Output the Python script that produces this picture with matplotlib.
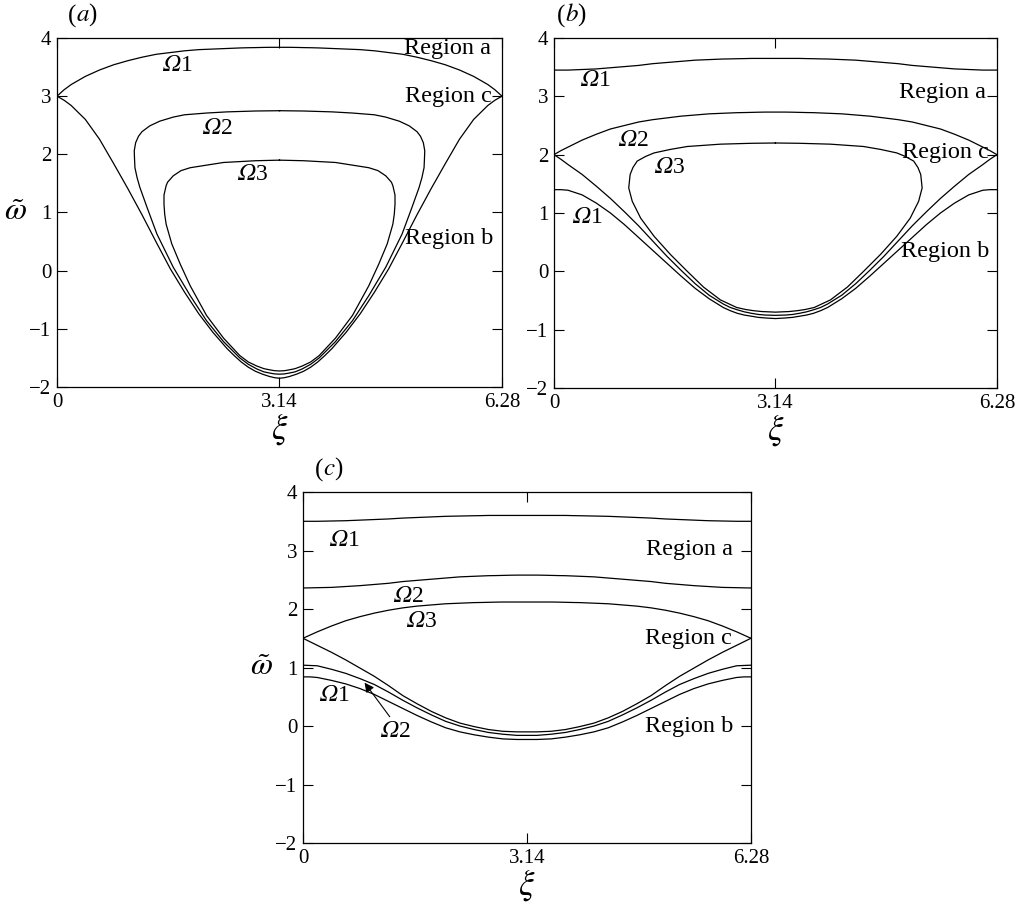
import matplotlib
matplotlib.use("Agg")
import matplotlib.pyplot as plt

plt.rcParams["font.family"] = ["Liberation Serif", "DejaVu Serif"]
plt.rcParams["mathtext.fontset"] = "custom"
plt.rcParams["mathtext.rm"] = "STIXGeneral:italic"
plt.rcParams["mathtext.it"] = "STIXGeneral:italic"
plt.rcParams["mathtext.bf"] = "STIXGeneral:bold"

# common xi grid (0 .. 2*pi), denser near the trough
XI = [0.00, 0.10, 0.20, 0.40, 0.60, 0.80, 1.00, 1.20, 1.40, 1.60, 1.80, 2.00, 2.20, 2.40, 2.50, 2.60, 2.70, 2.80,
      2.90, 3.00, 3.07, 3.14, 3.21, 3.28, 3.38, 3.48, 3.58, 3.68, 3.78, 3.88, 4.08, 4.28, 4.48, 4.68, 4.88, 5.08,
      5.28, 5.48, 5.68, 5.88, 6.08, 6.18, 6.28]

# ---- panel (a) ----
a_om1_up = [3.00, 3.11, 3.20, 3.34, 3.45, 3.54, 3.61, 3.67, 3.72, 3.75, 3.78, 3.80, 3.81, 3.82, 3.825, 3.83, 3.833,
            3.835, 3.838, 3.84, 3.84, 3.84, 3.84, 3.84, 3.838, 3.835, 3.833, 3.83, 3.825, 3.82, 3.81, 3.80, 3.78,
            3.75, 3.72, 3.67, 3.61, 3.54, 3.45, 3.34, 3.20, 3.11, 3.00]
a_om1_lo = [3.00, 2.93, 2.84, 2.60, 2.26, 1.84, 1.41, 0.96, 0.49, 0.03, -0.37, -0.74, -1.06, -1.34, -1.46, -1.57,
            -1.66, -1.73, -1.78, -1.82, -1.84, -1.85, -1.84, -1.82, -1.78, -1.73, -1.66, -1.57, -1.46, -1.34, -1.06,
            -0.74, -0.37, 0.03, 0.49, 0.96, 1.41, 1.84, 2.26, 2.60, 2.84, 2.93, 3.00]
a_om2_xi = [3.14, 2.80, 2.40, 2.11, 1.80, 1.64, 1.45, 1.31, 1.20, 1.15, 1.11, 1.09, 1.095, 1.10, 1.13, 1.17, 1.27,
            1.41, 1.64, 1.88, 2.11, 2.35, 2.58, 2.70, 2.82, 2.92, 3.00, 3.07, 3.14, 3.21, 3.28, 3.36, 3.46, 3.58,
            3.70, 3.93, 4.17, 4.40, 4.64, 4.87, 5.01, 5.11, 5.15, 5.18, 5.185, 5.19, 5.17, 5.13, 5.08, 4.97, 4.83,
            4.64, 4.48, 4.17, 3.88, 3.48, 3.14]
a_om2_w = [2.75, 2.745, 2.73, 2.71, 2.68, 2.64, 2.57, 2.49, 2.39, 2.31, 2.20, 2.06, 1.90, 1.77, 1.60, 1.43, 1.09,
           0.63, 0.06, -0.43, -0.86, -1.22, -1.50, -1.61, -1.69, -1.74, -1.76, -1.775, -1.78, -1.775, -1.76,
           -1.74, -1.69, -1.61, -1.50, -1.22, -0.86, -0.43, 0.06, 0.63, 1.09, 1.43, 1.60, 1.77, 1.90, 2.06, 2.20,
           2.31, 2.39, 2.49, 2.57, 2.64, 2.68, 2.71, 2.73, 2.745, 2.75]
a_om3_xi = [3.14, 2.80, 2.35, 1.88, 1.75, 1.64, 1.56, 1.54, 1.51, 1.51, 1.52, 1.54, 1.62, 1.74, 1.88, 2.11, 2.35,
            2.58, 2.70, 2.82, 2.92, 3.00, 3.07, 3.14, 3.21, 3.28, 3.36, 3.46, 3.58, 3.70, 3.93, 4.17, 4.40, 4.54,
            4.66, 4.74, 4.76, 4.77, 4.77, 4.74, 4.72, 4.64, 4.53, 4.40, 3.93, 3.48, 3.14]
a_om3_w = [1.90, 1.89, 1.86, 1.77, 1.72, 1.63, 1.52, 1.46, 1.30, 1.14, 0.97, 0.80, 0.46, 0.11, -0.26, -0.77, -1.16,
           -1.46, -1.57, -1.64, -1.685, -1.705, -1.72, -1.725, -1.72, -1.705, -1.685, -1.64, -1.57, -1.46, -1.16,
           -0.77, -0.26, 0.11, 0.46, 0.80, 0.97, 1.14, 1.30, 1.46, 1.52, 1.63, 1.72, 1.77, 1.86, 1.89, 1.90]

# ---- panel (b) ----
b_om1_up = [3.45, 3.45, 3.45, 3.46, 3.47, 3.49, 3.51, 3.53, 3.56, 3.58, 3.60, 3.62, 3.63, 3.64, 3.642, 3.645, 3.647,
            3.65, 3.65, 3.65, 3.65, 3.65, 3.65, 3.65, 3.65, 3.65, 3.647, 3.645, 3.642, 3.64, 3.63, 3.62, 3.60,
            3.58, 3.56, 3.53, 3.51, 3.49, 3.47, 3.46, 3.45, 3.45, 3.45]
b_om2_up = [2.00, 2.07, 2.13, 2.25, 2.35, 2.44, 2.50, 2.56, 2.60, 2.63, 2.66, 2.68, 2.70, 2.71, 2.715, 2.72, 2.722,
            2.725, 2.728, 2.73, 2.73, 2.73, 2.73, 2.73, 2.728, 2.725, 2.722, 2.72, 2.715, 2.71, 2.70, 2.68, 2.66,
            2.63, 2.60, 2.56, 2.50, 2.44, 2.35, 2.25, 2.13, 2.07, 2.00]
b_om2_lo = [2.00, 1.92, 1.83, 1.66, 1.46, 1.25, 1.02, 0.78, 0.52, 0.26, 0.02, -0.21, -0.41, -0.56, -0.62, -0.66,
            -0.695, -0.72, -0.74, -0.75, -0.752, -0.755, -0.752, -0.75, -0.74, -0.72, -0.695, -0.66, -0.62, -0.56,
            -0.41, -0.21, 0.02, 0.26, 0.52, 0.78, 1.02, 1.25, 1.46, 1.66, 1.83, 1.92, 2.00]
b_om1_lo = [1.40, 1.40, 1.39, 1.31, 1.17, 1.00, 0.80, 0.58, 0.36, 0.14, -0.08, -0.29, -0.47, -0.62, -0.675, -0.72,
            -0.75, -0.77, -0.79, -0.80, -0.805, -0.81, -0.805, -0.80, -0.79, -0.77, -0.75, -0.72, -0.675, -0.62,
            -0.47, -0.29, -0.08, 0.14, 0.36, 0.58, 0.80, 1.00, 1.17, 1.31, 1.39, 1.40, 1.40]
b_om3_xi = [3.14, 2.80, 2.36, 1.89, 1.65, 1.42, 1.30, 1.18, 1.12, 1.08, 1.06, 1.11, 1.23, 1.42, 1.65, 1.89, 2.12,
            2.36, 2.59, 2.72, 2.83, 2.95, 3.05, 3.14, 3.23, 3.33, 3.45, 3.56, 3.69, 3.92, 4.16, 4.39, 4.63, 4.86,
            5.05, 5.17, 5.22, 5.20, 5.16, 5.10, 4.98, 4.86, 4.63, 4.39, 3.92, 3.48, 3.14]
b_om3_w = [2.20, 2.195, 2.18, 2.14, 2.09, 2.03, 1.97, 1.89, 1.78, 1.66, 1.43, 1.20, 0.91, 0.60, 0.29, 0.00, -0.27,
           -0.49, -0.62, -0.655, -0.675, -0.69, -0.695, -0.70, -0.695, -0.69, -0.675, -0.655, -0.62, -0.49, -0.27,
           0.00, 0.29, 0.60, 0.91, 1.20, 1.43, 1.66, 1.78, 1.89, 1.97, 2.03, 2.09, 2.14, 2.18, 2.195, 2.20]

# ---- panel (c) ----
c_om1_up = [3.50, 3.50, 3.50, 3.505, 3.51, 3.52, 3.53, 3.54, 3.555, 3.565, 3.575, 3.585, 3.59, 3.595, 3.597, 3.60,
            3.60, 3.60, 3.60, 3.60, 3.60, 3.60, 3.60, 3.60, 3.60, 3.60, 3.60, 3.60, 3.597, 3.595, 3.59, 3.585,
            3.575, 3.565, 3.555, 3.54, 3.53, 3.52, 3.51, 3.505, 3.50, 3.50, 3.50]
c_om2_up = [2.36, 2.362, 2.365, 2.37, 2.385, 2.40, 2.42, 2.44, 2.47, 2.49, 2.51, 2.53, 2.55, 2.56, 2.565, 2.57,
            2.572, 2.575, 2.578, 2.58, 2.58, 2.58, 2.58, 2.58, 2.578, 2.575, 2.572, 2.57, 2.565, 2.56, 2.55, 2.53,
            2.51, 2.49, 2.47, 2.44, 2.42, 2.40, 2.385, 2.37, 2.365, 2.362, 2.36]
c_om3_up = [1.50, 1.555, 1.61, 1.71, 1.80, 1.87, 1.93, 1.98, 2.02, 2.05, 2.07, 2.09, 2.10, 2.11, 2.112, 2.115,
            2.118, 2.12, 2.12, 2.12, 2.12, 2.12, 2.12, 2.12, 2.12, 2.12, 2.118, 2.115, 2.112, 2.11, 2.10, 2.09,
            2.07, 2.05, 2.02, 1.98, 1.93, 1.87, 1.80, 1.71, 1.61, 1.555, 1.50]
c_om3_lo = [1.50, 1.44, 1.38, 1.26, 1.13, 0.99, 0.85, 0.69, 0.52, 0.38, 0.25, 0.14, 0.05, -0.01, -0.035, -0.06,
            -0.075, -0.09, -0.095, -0.10, -0.10, -0.10, -0.10, -0.10, -0.095, -0.09, -0.075, -0.06, -0.035, -0.01,
            0.05, 0.14, 0.25, 0.38, 0.52, 0.69, 0.85, 0.99, 1.13, 1.26, 1.38, 1.44, 1.50]
c_om2_lo = [1.04, 1.035, 1.03, 0.97, 0.90, 0.81, 0.71, 0.58, 0.44, 0.31, 0.19, 0.08, 0.00, -0.06, -0.085, -0.11,
            -0.125, -0.14, -0.15, -0.16, -0.16, -0.16, -0.16, -0.16, -0.15, -0.14, -0.125, -0.11, -0.085, -0.06,
            0.00, 0.08, 0.19, 0.31, 0.44, 0.58, 0.71, 0.81, 0.90, 0.97, 1.03, 1.035, 1.04]
c_om1_lo = [0.84, 0.84, 0.83, 0.78, 0.72, 0.64, 0.54, 0.42, 0.30, 0.18, 0.07, -0.03, -0.10, -0.15, -0.17, -0.19,
            -0.205, -0.22, -0.225, -0.23, -0.23, -0.23, -0.23, -0.23, -0.225, -0.22, -0.205, -0.19, -0.17, -0.15,
            -0.10, -0.03, 0.07, 0.18, 0.30, 0.42, 0.54, 0.64, 0.72, 0.78, 0.83, 0.84, 0.84]

xticks = [0, 3.14, 6.28]
xticklabels = ["0", "3.14", "6.28"]
yticks = [-2, -1, 0, 1, 2, 3, 4]
yticklabels = ["\u22122", "\u22121", "0", "1", "2", "3", "4"]

OM1 = r"$\Omega$1"
OM2 = r"$\Omega$2"
OM3 = r"$\Omega$3"
OMEGA_FONT = dict(fontsize=17, ha="center", va="center")
REGION_FONT = dict(fontsize=17.5, ha="center", va="center")

fig = plt.figure(figsize=(10.27, 9.05), dpi=100)
ax_a = fig.add_axes([0.0555, 0.5724, 0.4333, 0.3856])
ax_b = fig.add_axes([0.5394, 0.5713, 0.4313, 0.3867])
ax_c = fig.add_axes([0.2950, 0.0685, 0.4362, 0.3878])

lw = 0.9
for ax in (ax_a, ax_b, ax_c):
    ax.set_xlim(0, 6.28)
    ax.set_ylim(-2, 4)
    ax.set_xticks(xticks)
    ax.set_xticklabels(xticklabels)
    ax.set_yticks(yticks)
    ax.set_yticklabels(yticklabels)
    ax.tick_params(direction="in", length=7, width=0.8, top=True, right=True,
                   labelsize=15, pad=4)
    for s in ax.spines.values():
        s.set_linewidth(0.9)
    ax.set_xlabel(r"$\xi$", fontsize=25, labelpad=0)

# (a)
ax_a.plot(XI, a_om1_up, "k-", lw=lw)
ax_a.plot(XI, a_om1_lo, "k-", lw=lw)
ax_a.plot(a_om2_xi, a_om2_w, "k-", lw=lw)
ax_a.plot(a_om3_xi, a_om3_w, "k-", lw=lw)
ax_a.text(1.70, 3.53, OM1, **OMEGA_FONT)
ax_a.text(2.26, 2.45, OM2, **OMEGA_FONT)
ax_a.text(2.76, 1.65, OM3, **OMEGA_FONT)
ax_a.text(5.51, 3.82, "Region a", **REGION_FONT)
ax_a.text(5.52, 2.99, "Region c", **REGION_FONT)
ax_a.text(5.54, 0.56, "Region b", **REGION_FONT)
ax_a.set_ylabel(r"$\tilde{\omega}$", fontsize=23, rotation=0, labelpad=10, va="center")
ax_a.text(0.043, 1.03, "(", transform=ax_a.transAxes, fontsize=18, va="bottom", ha="right")
ax_a.text(0.043, 1.03, r"$a$)", transform=ax_a.transAxes, fontsize=18, va="bottom", ha="left")

# (b)
ax_b.plot(XI, b_om1_up, "k-", lw=lw)
ax_b.plot(XI, b_om2_up, "k-", lw=lw)
ax_b.plot(XI, b_om2_lo, "k-", lw=lw)
ax_b.plot(XI, b_om1_lo, "k-", lw=lw)
ax_b.plot(b_om3_xi, b_om3_w, "k-", lw=lw)
ax_b.text(0.58, 3.27, OM1, **OMEGA_FONT)
ax_b.text(1.12, 2.24, OM2, **OMEGA_FONT)
ax_b.text(1.64, 1.78, OM3, **OMEGA_FONT)
ax_b.text(0.47, 0.92, OM1, **OMEGA_FONT)
ax_b.text(5.51, 3.06, "Region a", **REGION_FONT)
ax_b.text(5.55, 2.03, "Region c", **REGION_FONT)
ax_b.text(5.55, 0.34, "Region b", **REGION_FONT)
ax_b.text(0.025, 1.03, "(", transform=ax_b.transAxes, fontsize=18, va="bottom", ha="right")
ax_b.text(0.025, 1.03, r"$b$)", transform=ax_b.transAxes, fontsize=18, va="bottom", ha="left")

# (c)
ax_c.plot(XI, c_om1_up, "k-", lw=lw)
ax_c.plot(XI, c_om2_up, "k-", lw=lw)
ax_c.plot(XI, c_om3_up, "k-", lw=lw)
ax_c.plot(XI, c_om3_lo, "k-", lw=lw)
ax_c.plot(XI, c_om2_lo, "k-", lw=lw)
ax_c.plot(XI, c_om1_lo, "k-", lw=lw)
ax_c.text(0.58, 3.18, OM1, **OMEGA_FONT)
ax_c.text(1.47, 2.21, OM2, **OMEGA_FONT)
ax_c.text(1.66, 1.78, OM3, **OMEGA_FONT)
ax_c.text(0.44, 0.53, OM1, **OMEGA_FONT)
ax_c.text(1.29, -0.10, OM2, **OMEGA_FONT)
ax_c.annotate("", xy=(0.84, 0.78), xytext=(1.24, 0.12),
              arrowprops=dict(arrowstyle="-|>", color="k", lw=0.8, mutation_scale=14))
ax_c.text(5.42, 3.02, "Region a", **REGION_FONT)
ax_c.text(5.41, 1.49, "Region c", **REGION_FONT)
ax_c.text(5.42, 0.00, "Region b", **REGION_FONT)
ax_c.set_ylabel(r"$\tilde{\omega}$", fontsize=23, rotation=0, labelpad=10, va="center")
ax_c.text(0.045, 1.03, "(", transform=ax_c.transAxes, fontsize=18, va="bottom", ha="right")
ax_c.text(0.045, 1.03, r"$c$)", transform=ax_c.transAxes, fontsize=18, va="bottom", ha="left")

fig.savefig("out.png", dpi=100)
plt.close(fig)
